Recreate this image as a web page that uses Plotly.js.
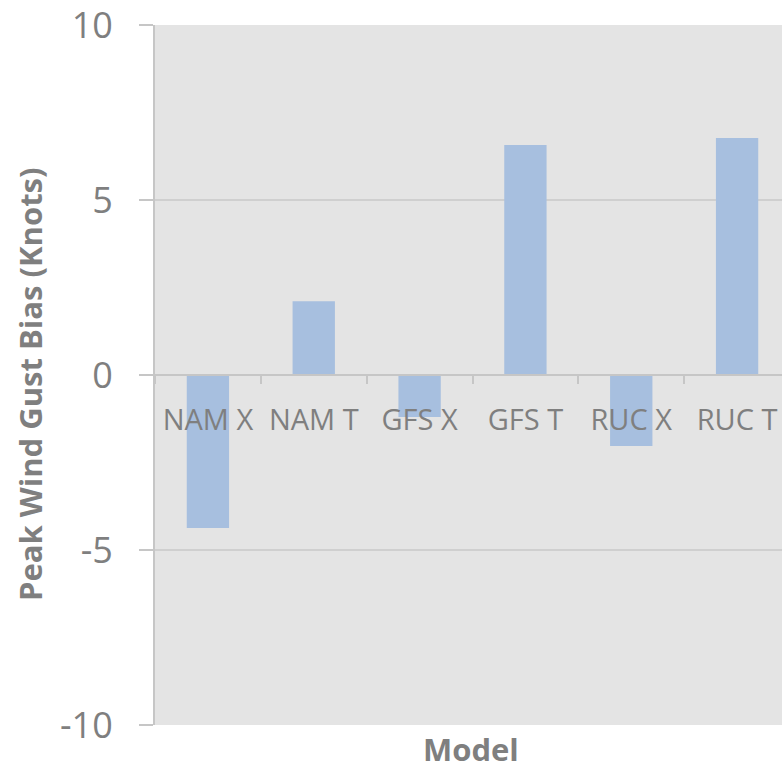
<!DOCTYPE html>
<html>
<head>
<meta charset="utf-8">
<script src="https://cdn.plot.ly/plotly-3.0.1.min.js"></script>
<style>
html,body{margin:0;padding:0;overflow:hidden;background:#fff;width:782px;height:769px;}
#chart{width:790px;height:769px;}
</style>
</head>
<body>
<div id="chart"></div>
<script>
const categories = ["NAM X", "NAM T", "GFS X", "GFS T", "RUC X", "RUC T"];
const biasValues = [-4.37, 2.11, -1.2, 6.57, -2.03, 6.77];
const yTickValues = [-10, -5, 0, 5, 10];
const yTickLabels = ["-10", "-5", "0", "5", "10"];

const gray = "#7f7f7f";
const fontFam = "'Open Sans', 'Liberation Sans', sans-serif";

const data = [{
  type: "bar",
  x: categories,
  y: biasValues,
  marker: {color: "#a7bfdf", line: {width: 0}},
  width: 0.4,
  hoverinfo: "x+y"
}];

const layout = {
  width: 790,
  height: 769,
  margin: {l: 155, r: 0, t: 25, b: 44},
  paper_bgcolor: "#ffffff",
  plot_bgcolor: "#e4e4e4",
  showlegend: false,
  font: {family: fontFam, color: gray},
  xaxis: {
    type: "category",
    anchor: "free",
    position: 0.5,
    showline: true,
    linecolor: "#c6c6c6",
    linewidth: 2,
    ticks: "outside",
    tickson: "boundaries",
    ticklen: 8,
    tickwidth: 2,
    tickcolor: "#c6c6c6",
    ticklabelstandoff: 19,
    tickfont: {size: 29, color: gray, family: fontFam},
    showgrid: false,
    zeroline: false,
    fixedrange: true
  },
  yaxis: {
    range: [-10, 10],
    tickvals: yTickValues,
    ticktext: yTickLabels,
    ticks: "outside",
    ticklen: 14,
    tickwidth: 2,
    tickcolor: "#c6c6c6",
    showline: true,
    linecolor: "#c6c6c6",
    linewidth: 2,
    showgrid: true,
    gridcolor: "#cfcfcf",
    gridwidth: 2,
    zeroline: false,
    tickfont: {size: 36, color: gray, family: fontFam},
    ticklabelstandoff: 19,
    ticklabeloverflow: "allow",
    fixedrange: true
  },
  annotations: [
    {
      text: "<b>Model</b>",
      xref: "x domain", yref: "paper",
      x: (471 - 155) / 635, y: -24 / 700,
      xanchor: "center", yanchor: "middle",
      showarrow: false,
      font: {size: 31, color: gray, family: fontFam}
    },
    {
      text: "<b>Peak Wind Gust Bias (Knots)</b>",
      xref: "paper", yref: "paper",
      x: (30 - 155) / 635, y: (725 - 384) / 700,
      xanchor: "center", yanchor: "middle",
      textangle: -90,
      showarrow: false,
      font: {size: 31, color: gray, family: fontFam}
    }
  ]
};

Plotly.newPlot("chart", data, layout, {displayModeBar: false, staticPlot: true});
</script>
</body>
</html>
